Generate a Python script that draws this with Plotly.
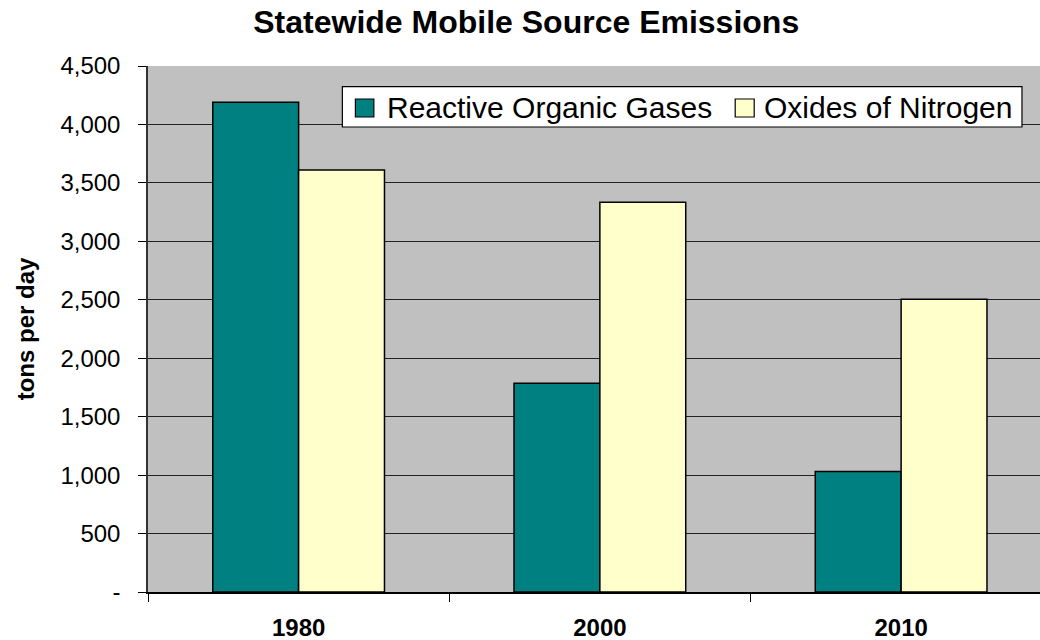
import plotly.graph_objects as go

categories = ["1980", "2000", "2010"]
rog = [4190, 1785, 1030]
nox = [3610, 3335, 2505]
series_names = ["Reactive Organic Gases", "Oxides of Nitrogen"]
series_colors = ["#008080", "#FFFFCC"]
ytick_vals = [0, 500, 1000, 1500, 2000, 2500, 3000, 3500, 4000, 4500]
ytick_text = ["-", "500", "1,000", "1,500", "2,000", "2,500", "3,000", "3,500", "4,000", "4,500"]

FONT = "Liberation Sans, Arial, sans-serif"

fig = go.Figure()
for vals, name, col in zip([rog, nox], series_names, series_colors):
    fig.add_trace(go.Bar(x=categories, y=vals, name=name, showlegend=False,
                         marker=dict(color=col, line=dict(color="black", width=1.5))))

# Legend box drawn in paper coordinates (Excel-style compact legend)
fig.add_shape(type="rect", xref="paper", yref="paper", x0=0.2179, x1=0.9798, y0=0.8840, y1=0.9606,
              fillcolor="white", line=dict(color="black", width=1.2), layer="above")
sw_x = [(0.2325, 0.2532), (0.6583, 0.6796)]
txt_x = [0.2661, 0.6885]
for (x0, x1), tx, name, col in zip(sw_x, txt_x, series_names, series_colors):
    fig.add_shape(type="rect", xref="paper", yref="paper", x0=x0, x1=x1, y0=0.9030, y1=0.9373,
                  fillcolor=col, line=dict(color="black", width=1.2), layer="above")
    fig.add_annotation(xref="paper", yref="paper", x=tx, y=0.9202, text=name, showarrow=False,
                       xanchor="left", yanchor="middle", font=dict(size=30, family=FONT, color="black"))

fig.update_layout(
    width=1040, height=640,
    margin=dict(l=147.5, r=0, t=66, b=48),
    paper_bgcolor="white", plot_bgcolor="#C0C0C0",
    barmode="group", bargap=0.43, bargroupgap=0,
    font=dict(family=FONT, color="black"),
    title=dict(text="<b>Statewide Mobile Source Emissions</b>", x=0.506, xanchor="center",
               y=0.966, yanchor="middle", font=dict(size=32, family=FONT)),
    showlegend=False,
)
fig.update_xaxes(
    type="category", range=[-0.5, 2.461],
    ticktext=["<b>" + c + "</b>" for c in categories], tickvals=categories,
    tickson="boundaries", ticks="outside", ticklen=8, tickcolor="black",
    showline=True, linecolor="black", linewidth=1.5,
    tickfont=dict(size=24, family=FONT), showgrid=False, ticklabelstandoff=13,
)
fig.update_yaxes(
    range=[0, 4500], tickvals=ytick_vals, ticktext=ytick_text,
    ticks="outside", ticklen=8, tickcolor="black",
    showline=True, linecolor="#333333", linewidth=1.5,
    showgrid=True, gridcolor="#222222", gridwidth=1, zeroline=False,
    tickfont=dict(size=24, family=FONT), ticklabelstandoff=13,
    title=dict(text="<b>tons per day</b>", font=dict(size=24, family=FONT), standoff=19),
)

fig.write_html("out.html", config={"displayModeBar": False},
               post_script="document.body.style.margin='0';document.documentElement.style.overflow='hidden';")
